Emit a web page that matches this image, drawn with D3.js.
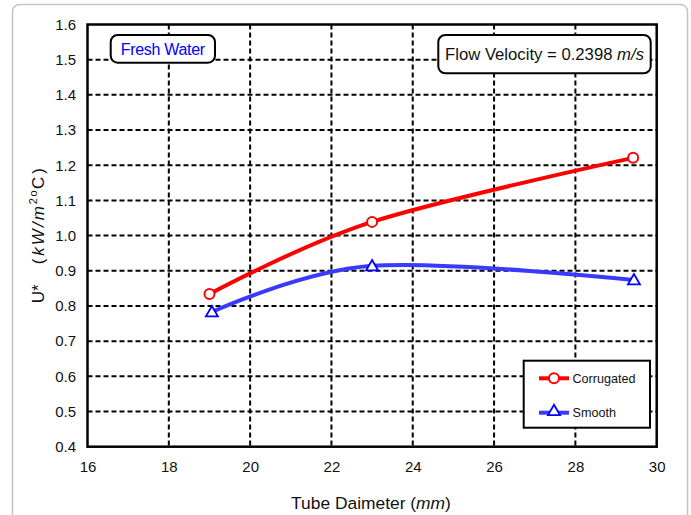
<!DOCTYPE html>
<html><head><meta charset="utf-8">
<script src="https://cdn.jsdelivr.net/npm/d3@7"></script>
<style>body{margin:0;background:#fff;}svg{display:block;font-family:"Liberation Sans",Arial,sans-serif;}</style>
</head><body><svg id="c" width="691" height="515"></svg>
<script>
const xTicks = [16,18,20,22,24,26,28,30];
const yTicks = [0.4,0.5,0.6,0.7,0.8,0.9,1.0,1.1,1.2,1.3,1.4,1.5,1.6];
const corrugatedX = [19.0, 23.0, 29.42];
const corrugatedY = [0.834, 1.039, 1.221];
const smoothX = [19.06, 23.0, 29.44];
const smoothY = [0.783, 0.914, 0.874];
const seriesNames = ["Corrugated","Smooth"];

const svg = d3.select("#c");
const M = {l:87.5, t:24.5, r:656.7, b:446.7};
const x = d3.scaleLinear().domain([16,30]).range([M.l,M.r]);
const y = d3.scaleLinear().domain([0.4,1.6]).range([M.b,M.t]);

// outer frame
svg.append("rect").attr("x",12.5).attr("y",4.5).attr("width",675).attr("height",530)
  .attr("rx",7).attr("fill","#fff").attr("stroke","#c4c4c4").attr("stroke-width",1.5);

// grid
const g = svg.append("g");
g.selectAll(".vg").data(xTicks.slice(1,-1)).join("line")
  .attr("x1",d=>x(d)).attr("x2",d=>x(d)).attr("y1",M.t).attr("y2",M.b)
  .attr("stroke","#000").attr("stroke-width",2).attr("stroke-dasharray","5,3");
g.selectAll(".hg").data(yTicks.slice(1,-1)).join("line")
  .attr("y1",d=>y(d)).attr("y2",d=>y(d)).attr("x1",M.l).attr("x2",M.r)
  .attr("stroke","#000").attr("stroke-width",2).attr("stroke-dasharray","5,3");

// axes
const xAxis = svg.append("g").attr("transform",`translate(0,${M.b})`)
  .call(d3.axisBottom(x).tickValues(xTicks).tickSize(0).tickPadding(14.6).tickFormat(d3.format("d")));
const yAxis = svg.append("g").attr("transform",`translate(${M.l},0)`)
  .call(d3.axisLeft(y).tickValues(yTicks).tickSize(0).tickPadding(11.5).tickFormat(d3.format(".1f")));
[xAxis,yAxis].forEach(a=>{a.select(".domain").remove();
  a.selectAll("text").attr("font-size",15).attr("fill","#111").attr("font-family","Liberation Sans, Arial, sans-serif");});

svg.append("rect").attr("x",M.l).attr("y",M.t).attr("width",M.r-M.l).attr("height",M.b-M.t)
  .attr("fill","none").attr("stroke","#000").attr("stroke-width",2.5);

// series
const line = d3.line().x(d=>x(d[0])).y(d=>y(d[1])).curve(d3.curveCardinal.tension(0));
const cData = corrugatedX.map((v,i)=>[v,corrugatedY[i]]);
const sData = smoothX.map((v,i)=>[v,smoothY[i]]);
svg.append("path").attr("d",line(sData)).attr("fill","none").attr("stroke","#3a3aff").attr("stroke-width",4);
svg.append("path").attr("d",line(cData)).attr("fill","none").attr("stroke","#ff0000").attr("stroke-width",4);
const tri = d3.symbol().type(d3.symbolTriangle).size(62);
function circ(sel,cx,cy){sel.append("circle").attr("cx",cx).attr("cy",cy).attr("r",5)
  .attr("fill","#fff").attr("stroke","#ff0000").attr("stroke-width",2);}
function triang(sel,cx,cy){sel.append("path").attr("d",tri()).attr("transform",`translate(${cx},${cy+1})`)
  .attr("fill","#fff").attr("stroke","#0000ff").attr("stroke-width",1.8);}
cData.forEach(d=>circ(svg,x(d[0]),y(d[1])));
sData.forEach(d=>triang(svg,x(d[0]),y(d[1])));

// legend
svg.append("rect").attr("x",523.7).attr("y",360.7).attr("width",126.3).attr("height",67)
  .attr("fill","#fff").attr("stroke","#000").attr("stroke-width",2);
const legY = [378.3, 412.7];
const legCol = ["#ff0000","#3a3aff"];
seriesNames.forEach((n,i)=>{
  svg.append("line").attr("x1",539).attr("x2",569).attr("y1",legY[i]).attr("y2",legY[i])
    .attr("stroke",legCol[i]).attr("stroke-width",4);
  if(i===0) circ(svg,554,legY[i]); else triang(svg,554,legY[i]-2);
  svg.append("text").attr("x",572.5).attr("y",legY[i]+4.5).attr("font-size",12.6).attr("fill","#111").text(n);
});

// annotation boxes
svg.append("rect").attr("x",110.7).attr("y",35).attr("width",104.3).attr("height",27.7).attr("rx",7)
  .attr("fill","#fff").attr("stroke","#000").attr("stroke-width",2);
svg.append("text").attr("x",162.8).attr("y",55).attr("text-anchor","middle").attr("font-size",16)
  .attr("fill","#0000ff").attr("letter-spacing",-0.3).text("Fresh Water");
svg.append("rect").attr("x",438.3).attr("y",35).attr("width",212.4).attr("height",38.3).attr("rx",7)
  .attr("fill","#fff").attr("stroke","#000").attr("stroke-width",2);
const fv = svg.append("text").attr("x",544.5).attr("y",60).attr("text-anchor","middle").attr("font-size",16.7).attr("fill","#111");
fv.append("tspan").text("Flow Velocity = 0.2398 ");
fv.append("tspan").attr("font-style","italic").text("m/s");

// axis titles
const xt = svg.append("text").attr("x",371).attr("y",509).attr("text-anchor","middle").attr("font-size",17.4).attr("fill","#111");
xt.append("tspan").text("Tube Daimeter (");
xt.append("tspan").attr("font-style","italic").text("mm");
xt.append("tspan").text(")");

const yt = svg.append("text").attr("transform",`translate(43.5,${(M.t+M.b)/2}) rotate(-90)`)
  .attr("text-anchor","middle").attr("font-size",17).attr("fill","#111");
yt.append("tspan").text("U*");
yt.append("tspan").attr("dx",20).text("(");
yt.append("tspan").attr("dx",3).attr("font-style","italic").attr("letter-spacing",2).text("kW/m");
yt.append("tspan").attr("font-size",11).attr("letter-spacing",1.5).attr("dy",-7).text("2o");
yt.append("tspan").attr("dy",7).text("C");
yt.append("tspan").attr("dx",3).text(")");
</script></body></html>
